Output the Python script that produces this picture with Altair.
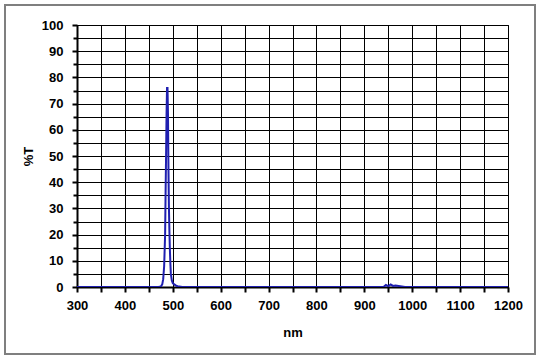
import altair as alt
import pandas as pd

wavelength = [300, 470, 475, 478, 480, 482, 484, 485, 486, 487, 488, 489, 490, 491,
              492, 493, 494, 495, 496, 498, 500, 503, 506, 510, 520,
              940, 945, 950, 955, 960, 965, 975, 985, 1200]
transmission = [0, 0, 0.2, 1, 3, 8, 20, 36, 50, 66, 76, 76, 66, 45,
                30, 21, 14, 9, 5, 2.5, 1.5, 1, 0.6, 0.3, 0,
                0, 0.8, 0.3, 1.0, 0.4, 0.6, 0.3, 0, 0]

x_ticks = list(range(300, 1201, 50))
y_ticks = list(range(0, 101, 5))

df = pd.DataFrame({"nm": wavelength, "T": transmission})

W, H = 431, 262
FONT = "Liberation Sans"

x_axis = alt.Axis(
    values=x_ticks, format="d",
    labelExpr="datum.value % 100 == 0 ? datum.label : ''",
    grid=True, gridColor="black", gridWidth=1, gridOpacity=1,
    domainColor="black", domainWidth=2,
    tickColor="black", tickWidth=2, tickSize=5, tickOffset=0,
    labelFont=FONT, labelFontSize=13, labelFontWeight="bold", labelColor="black",
    labelPadding=7, labelFlush=False, labelOverlap=False,
    title="nm", titleFont=FONT, titleFontSize=13, titleFontWeight="bold",
    titleColor="black", titlePadding=14,
)
y_axis = alt.Axis(
    values=y_ticks, format="d",
    labelExpr="datum.value % 10 == 0 ? datum.label : ''",
    grid=True, gridColor="black", gridWidth=1, gridOpacity=1,
    domainColor="black", domainWidth=2,
    tickColor="black", tickWidth=2,
    tickSize={"condition": {"test": "datum.value % 10 == 0", "value": 5}, "value": 4},
    labelFont=FONT, labelFontSize=13, labelFontWeight="bold", labelColor="black",
    labelPadding=9, labelFlush=False, labelOverlap=False,
    title="%T", titleFont=FONT, titleFontSize=13, titleFontWeight="bold",
    titleColor="black", titlePadding=6,
)

line = alt.Chart(df).mark_line(color="#1f1fb0", strokeWidth=2, clip=True).encode(
    x=alt.X("nm:Q", scale=alt.Scale(domain=[300, 1200], nice=False), axis=x_axis),
    y=alt.Y("T:Q", scale=alt.Scale(domain=[0, 100], nice=False), axis=y_axis),
)

frame = alt.Chart(pd.DataFrame({"a": [0]})).mark_rect(
    fill=None, stroke="#7f7f7f", strokeWidth=2, clip=False
).encode(
    x=alt.value(-72), x2=alt.value(W + 27),
    y=alt.value(-20), y2=alt.value(H + 67),
)

chart = alt.layer(frame, line).properties(
    width=W, height=H,
    autosize=alt.AutoSizeParams(type="none"),
    padding={"left": 77, "top": 25, "right": 32, "bottom": 72},
    background="white",
).configure_view(stroke="black", strokeWidth=1)

chart.save("out.html", embed_options={"renderer": "svg", "actions": False})
